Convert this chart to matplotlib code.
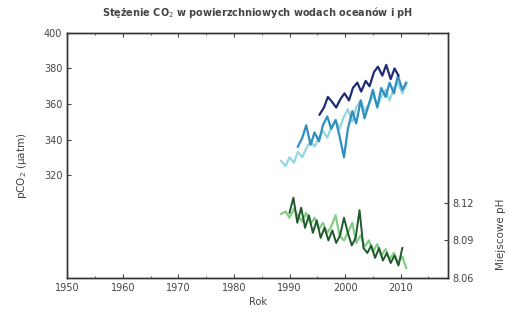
import matplotlib
matplotlib.use("Agg")
import matplotlib.pyplot as plt
from matplotlib.ticker import MultipleLocator

# Surface-ocean pCO2 records (µatm)
years_light = [1988.5, 1989.3, 1990.0, 1990.8, 1991.5, 1992.3, 1993.0, 1993.8, 1994.5, 1995.3,
               1996.0, 1996.8, 1997.5, 1998.3, 1999.0, 1999.8, 2000.5, 2001.3, 2002.0, 2002.8,
               2003.5, 2004.3, 2005.0, 2005.8, 2006.5, 2007.3, 2008.0, 2008.8, 2009.5, 2010.3, 2011.0]
pco2_light = [328, 325, 330, 327, 333, 330, 335, 339, 336, 341,
              345, 341, 347, 351, 346, 353, 357, 350, 358, 362,
              356, 360, 365, 359, 364, 368, 362, 369, 372, 366, 371]

years_mid = [1991.5, 1992.3, 1993.0, 1993.8, 1994.5, 1995.3, 1996.0, 1996.8, 1997.5, 1998.3,
             1999.0, 1999.8, 2000.5, 2001.3, 2002.0, 2002.8, 2003.5, 2004.3, 2005.0, 2005.8,
             2006.5, 2007.3, 2008.0, 2008.8, 2009.5, 2010.3, 2011.0]
pco2_mid = [336, 341, 348, 337, 344, 339, 348, 353, 346, 351,
            342, 330, 346, 356, 349, 362, 352, 360, 368, 358,
            369, 364, 372, 366, 376, 368, 372]

years_dark = [1995.4, 1996.2, 1996.9, 1997.7, 1998.4, 1999.2, 1999.9, 2000.7, 2001.4, 2002.2,
              2002.9, 2003.7, 2004.4, 2005.2, 2005.9, 2006.7, 2007.4, 2008.2, 2008.9, 2009.6]
pco2_dark = [354, 358, 364, 361, 358, 363, 366, 362, 369, 372,
             367, 373, 370, 378, 381, 376, 382, 374, 380, 376]

# Local surface pH records
years_ph_light = [1988.5, 1989.3, 1990.0, 1990.8, 1991.5, 1992.3, 1993.0, 1993.8, 1994.5, 1995.3,
                  1996.0, 1996.8, 1997.5, 1998.3, 1999.0, 1999.8, 2000.5, 2001.3, 2002.0, 2002.8,
                  2003.5, 2004.3, 2005.0, 2005.8, 2006.5, 2007.3, 2008.0, 2008.8, 2009.5, 2010.3, 2011.0]
ph_light = [8.111, 8.113, 8.108, 8.115, 8.110, 8.105, 8.112, 8.103, 8.108, 8.099,
            8.104, 8.096, 8.101, 8.110, 8.094, 8.090, 8.096, 8.104, 8.088, 8.094,
            8.085, 8.090, 8.081, 8.087, 8.078, 8.083, 8.075, 8.080, 8.072, 8.077, 8.068]

years_ph_dark = [1990.0, 1990.7, 1991.4, 1992.1, 1992.8, 1993.5, 1994.2, 1994.9, 1995.6, 1996.3,
                 1997.0, 1997.7, 1998.4, 1999.1, 1999.8, 2000.5, 2001.2, 2001.9, 2002.6, 2003.3,
                 2004.0, 2004.7, 2005.4, 2006.1, 2006.8, 2007.5, 2008.2, 2008.9, 2009.6, 2010.3]
ph_dark = [8.112, 8.124, 8.104, 8.116, 8.100, 8.110, 8.096, 8.106, 8.092, 8.100,
           8.090, 8.098, 8.088, 8.094, 8.108, 8.096, 8.086, 8.092, 8.114, 8.084,
           8.080, 8.086, 8.076, 8.084, 8.074, 8.080, 8.072, 8.078, 8.070, 8.084]

x_ticks = [1950, 1960, 1970, 1980, 1990, 2000, 2010]
pco2_ticks = [320, 340, 360, 380, 400]
ph_ticks = [8.06, 8.09, 8.12]

text_color = "#444444"
plt.rcParams["font.family"] = ["DejaVu Sans"]

fig = plt.figure(figsize=(5.09, 3.23), dpi=100)
ax = fig.add_axes([0.132, 0.139, 0.748, 0.759])
ax2 = ax.twinx()

ax.plot(years_light, pco2_light, color="#93d5e2", lw=1.6)
ax.plot(years_mid, pco2_mid, color="#2f8fbf", lw=1.6)
ax.plot(years_dark, pco2_dark, color="#1f2d78", lw=1.6)

ax2.plot(years_ph_light, ph_light, color="#86cc86", lw=1.6)
ax2.plot(years_ph_dark, ph_dark, color="#1f5a2c", lw=1.4)

ax.set_xlim(1950, 2018.5)
ax.set_ylim(262, 400)
ax2.set_ylim(8.06, 8.255)

ax.set_xticks(x_ticks)
ax.set_yticks(pco2_ticks)
ax2.set_yticks(ph_ticks)
ax2.set_yticklabels([f"{v:.2f}" for v in ph_ticks])
ax.xaxis.set_minor_locator(MultipleLocator(5))

ax.tick_params(axis="x", direction="in", top=True, length=3, labelsize=7, colors=text_color)
ax.tick_params(axis="x", which="minor", direction="in", top=True, length=1.5, color=text_color)
ax.tick_params(axis="y", direction="in", length=3, labelsize=7, colors=text_color)
ax2.tick_params(axis="y", direction="in", length=3, labelsize=7, colors=text_color)

for a in (ax, ax2):
    for s in a.spines.values():
        s.set_color("#333333")
        s.set_linewidth(1.0)

ax.set_xlabel("Rok", fontsize=7, color=text_color, labelpad=3)
ax.set_ylabel("pCO$_2$ (µatm)", fontsize=7.5, color=text_color)
ax.yaxis.set_label_coords(-0.10, 0.46)
ax2.set_ylabel("Miejscowe pH", fontsize=7.5, color=text_color)
ax2.yaxis.set_label_coords(1.127, 0.18)
ax.set_title("Stężenie CO$_2$ w powierzchniowych wodach oceanów i pH",
             fontsize=7, fontweight="bold", color=text_color, pad=12)

fig.savefig("out.png", dpi=100)
